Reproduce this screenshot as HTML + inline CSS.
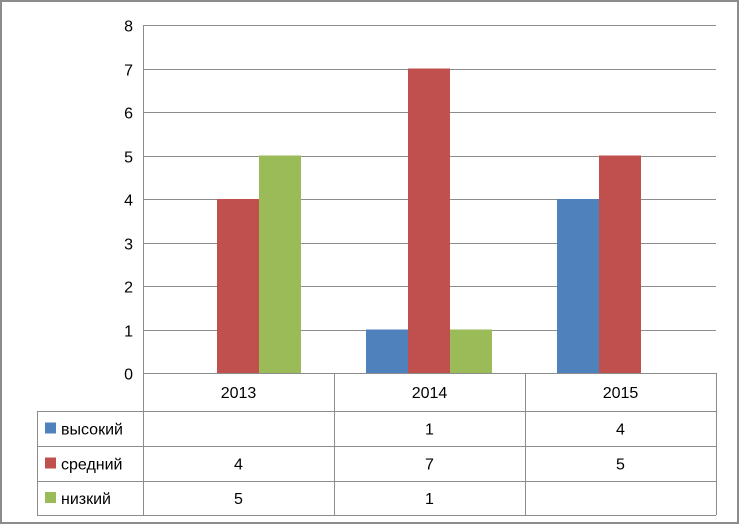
<!DOCTYPE html>
<html><head><meta charset="utf-8"><style>
body{margin:0;background:#fff}
svg{display:block;font-family:"Liberation Sans","DejaVu Sans",sans-serif}
</style></head><body>
<svg width="740" height="526" viewBox="0 0 740 526">
<rect x="1" y="1" width="737" height="522" fill="#fff" stroke="#8c8c8c" stroke-width="2"/>
<g id="grid"></g><g id="bars"></g><g id="table"></g>
</svg>
<script>
const categories=["2013","2014","2015"];
const seriesNames=["высокий","средний","низкий"];
const seriesColors=["#4f81bd","#c0504d","#9bbb59"];
const vysokiy=[null,1,4];
const sredniy=[4,7,5];
const nizkiy=[5,1,null];
const yTicks=[0,1,2,3,4,5,6,7,8];
const series=[vysokiy,sredniy,nizkiy];
const NS="http://www.w3.org/2000/svg";
const x0=143,x1=716,y0=373,yTop=25,yMax=8;
const catW=(x1-x0)/categories.length,barW=42,groupOff=32;
const yS=v=>y0-(v/yMax)*(y0-yTop);
function mk(t,a,p){const e=document.createElementNS(NS,t);for(const k in a)e.setAttribute(k,a[k]);p.appendChild(e);return e;}
const grid=document.getElementById('grid'),bars=document.getElementById('bars'),tb=document.getElementById('table');
yTicks.forEach(v=>{const y=Math.round(yS(v))+0.5;
 const l=mk('line',{x1:x0,x2:x1,y1:y,y2:y,stroke:'#8c8c8c','stroke-width':1},grid);
 
 
 const t=mk('text',{x:x0-10,y:y+6,'text-anchor':'end','font-size':16,fill:'#000'},grid);t.textContent=v;
 
 
});
const ax=mk('line',{x1:x0+0.5,x2:x0+0.5,y1:yTop,y2:y0,stroke:'#8c8c8c'},grid);


categories.forEach((c,i)=>{series.forEach((s,j)=>{const v=s[i];if(v==null)return;
 const x=x0+i*catW+groupOff+j*barW;
 const r=mk('rect',{x:x,y:yS(v),width:barW,height:y0-yS(v),fill:seriesColors[j]},bars);
 
 
});});
// table
const rowY=[373,411,446,481,515],lx=37;
for(let i=0;i<=categories.length;i++){const x=Math.round(x0+i*catW)+0.5;
 const l=mk('line',{x1:x,x2:x,y1:y0,y2:515,stroke:'#8c8c8c'},tb);
 
 }
mk('line',{x1:lx+0.5,x2:lx+0.5,y1:411,y2:515,stroke:'#8c8c8c'},tb);
rowY.slice(1).forEach(y=>{const l=mk('line',{x1:lx,x2:x1,y1:y+0.5,y2:y+0.5,stroke:'#8c8c8c'},tb);
 
 });
categories.forEach((c,i)=>{const t=mk('text',{x:x0+(i+0.5)*catW,y:398,'text-anchor':'middle','font-size':16},tb);t.textContent=c;
 
 });
series.forEach((s,j)=>{const cy=(rowY[j+1]+rowY[j+2])/2;
 const sw=mk('rect',{x:45,y:cy-6,width:11,height:11,fill:seriesColors[j]},tb);
 
 
 const t=mk('text',{x:61,y:cy+6,'font-size':16},tb);t.textContent=seriesNames[j];
 
 
 s.forEach((v,i)=>{if(v==null)return;const tv=mk('text',{x:x0+(i+0.5)*catW,y:cy+6,'text-anchor':'middle','font-size':16},tb);tv.textContent=v;
  
  });
});
</script>
</body></html>
